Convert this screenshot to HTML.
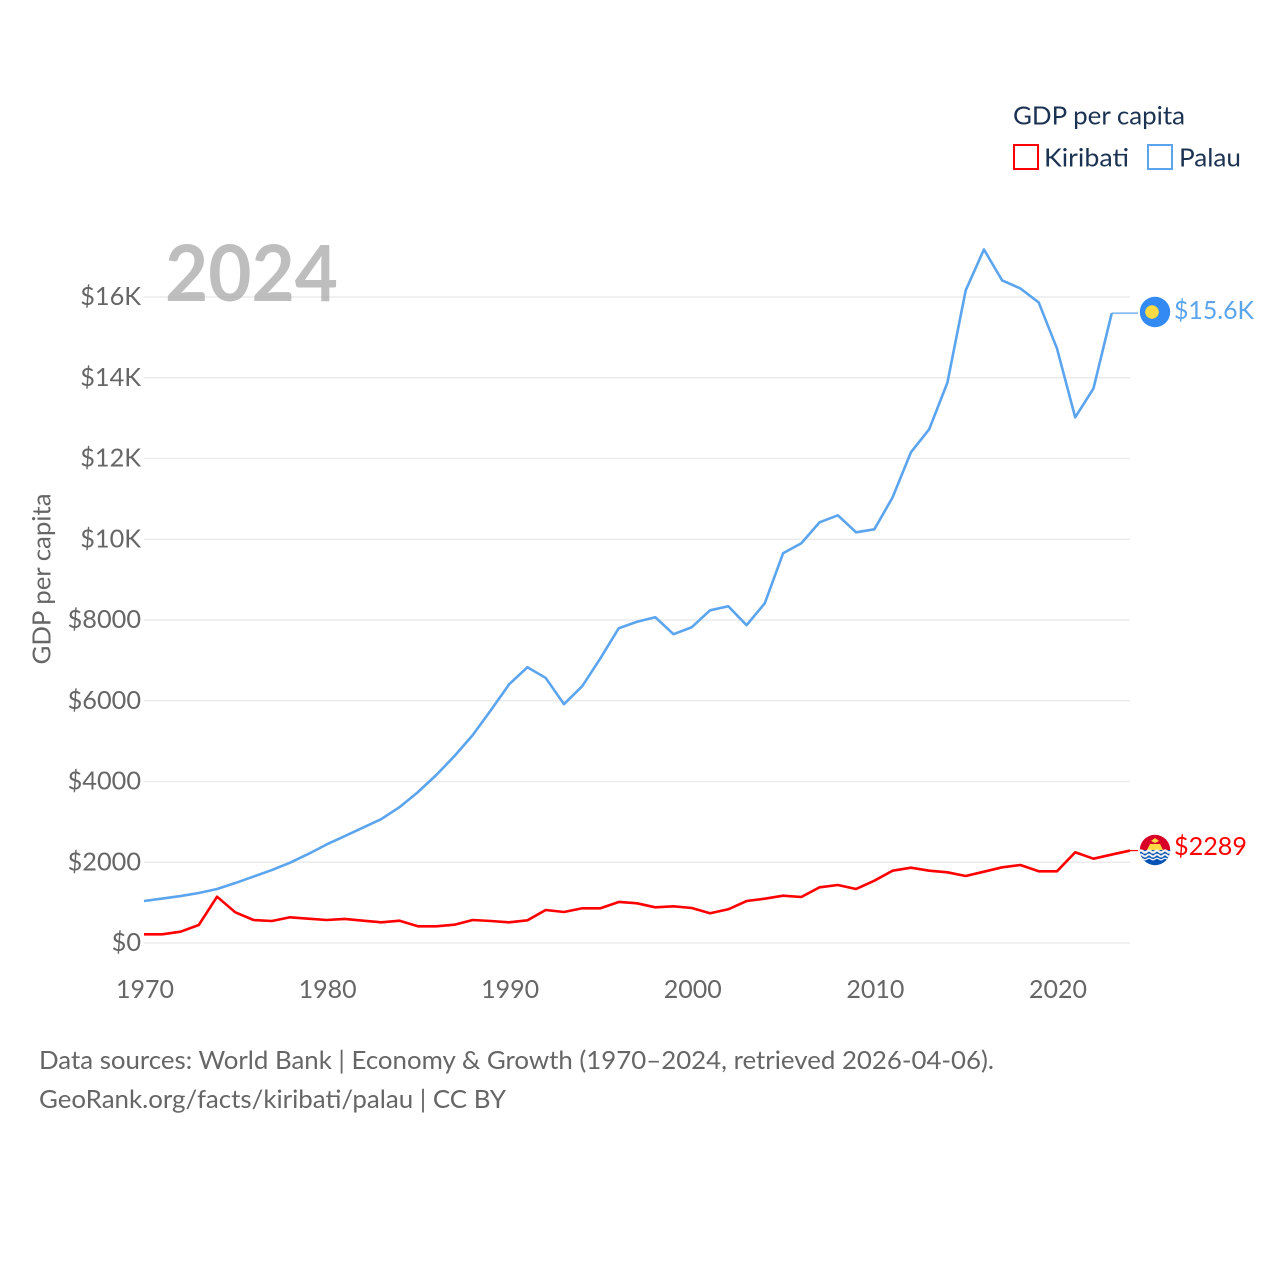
<!DOCTYPE html>
<html lang="en">
<head>
<meta charset="utf-8">
<title>GDP per capita: Kiribati and Palau</title>
<style>
html,body{margin:0;padding:0;background:#fff;width:1280px;height:1280px;overflow:hidden}
svg{display:block}
text{font-family:"Lato","Carlito","Liberation Sans",sans-serif}
</style>
</head>
<body>
<svg id="chart" xmlns="http://www.w3.org/2000/svg" width="1280" height="1280" viewBox="0 0 1280 1280">
  <defs>
    <clipPath id="flag-clip-ki"><circle cx="1155" cy="850" r="15.2"/></clipPath>
  </defs>
  <g id="grid"></g>
  <text x="165" y="301" font-size="78" font-weight="700" fill="#a8a8a8" fill-opacity="0.75" textLength="173" lengthAdjust="spacingAndGlyphs">2024</text>
  <g id="yticks"></g>
  <g id="xticks"></g>
  <text transform="translate(50.5,579) rotate(-90)" text-anchor="middle" font-size="25.2" fill="#666" textLength="171" lengthAdjust="spacingAndGlyphs">GDP per capita</text>
  <g id="series"></g>

  <g>
    <text x="1013" y="124.5" font-size="25.2" fill="#1b3252" textLength="172" lengthAdjust="spacingAndGlyphs">GDP per capita</text>
    <rect x="1014" y="145" width="24" height="24" fill="#fff" stroke="#ff0000" stroke-width="2"/>
    <text x="1044" y="166.5" font-size="25.2" fill="#1b3252" textLength="85" lengthAdjust="spacingAndGlyphs">Kiribati</text>
    <rect x="1148" y="145" width="24" height="24" fill="#fff" stroke="#5ba4ee" stroke-width="2"/>
    <text x="1179" y="166.5" font-size="25.2" fill="#1b3252" textLength="62" lengthAdjust="spacingAndGlyphs">Palau</text>
  </g>

  <g>
    <circle cx="1155" cy="312" r="15.2" fill="#338af3"/>
    <circle cx="1152" cy="312" r="6.8" fill="#ffda44"/>
    <text x="1174" y="319" font-size="25.2" fill="#5ba4ee" textLength="80" lengthAdjust="spacingAndGlyphs">$15.6K</text>
  </g>
  <g>
    <g clip-path="url(#flag-clip-ki)">
      <rect x="1139" y="834" width="32" height="17" fill="#d80027"/>
      <rect x="1139" y="850" width="32" height="16" fill="#0052b4"/>
      <path d="M1147 850l3-6h10l3 6z" fill="#ffda44"/>
      <path d="M1151 841l4-3 4 3-4 2z" fill="#ffda44"/>
      <path d="M1139 851.5q2-2 4 0t4 0 4 0 4 0 4 0 4 0 4 0 4 0" fill="none" stroke="#f0f0f0" stroke-width="2.4"/>
      <path d="M1139 855.5q2-2 4 0t4 0 4 0 4 0 4 0 4 0 4 0 4 0" fill="none" stroke="#f0f0f0" stroke-width="2"/>
      <path d="M1139 859q2-1.6 4 0t4 0 4 0 4 0 4 0 4 0 4 0 4 0" fill="none" stroke="#f0f0f0" stroke-width="1.4"/>
    </g>
    <text x="1174" y="855" font-size="25.2" fill="#ff0000" textLength="73" lengthAdjust="spacingAndGlyphs">$2289</text>
  </g>

  <g>
    <text x="39" y="1069" font-size="25.2" fill="#666" textLength="955" lengthAdjust="spacingAndGlyphs">Data sources: World Bank | Economy &amp; Growth (1970–2024, retrieved 2026-04-06).</text>
    <text x="39" y="1108" font-size="25.2" fill="#666" textLength="467" lengthAdjust="spacingAndGlyphs">GeoRank.org/facts/kiribati/palau | CC BY</text>
  </g>
</svg>
<script>
const startYear = 1970;
const years = [1970,1971,1972,1973,1974,1975,1976,1977,1978,1979,1980,1981,1982,1983,1984,1985,1986,1987,1988,1989,1990,1991,1992,1993,1994,1995,1996,1997,1998,1999,2000,2001,2002,2003,2004,2005,2006,2007,2008,2009,2010,2011,2012,2013,2014,2015,2016,2017,2018,2019,2020,2021,2022,2023,2024];
const kiribati = [215,215,280,446,1147,760,570,545,637,602,570,595,552,513,552,414,414,453,570,545,513,562,817,768,860,860,1016,983,884,909,867,736,835,1040,1097,1172,1139,1380,1437,1338,1543,1791,1865,1791,1751,1660,1766,1875,1932,1776,1776,2247,2088,2190,2289];
const palau = [1040,1101,1163,1238,1337,1485,1646,1807,1990,2205,2440,2650,2860,3069,3366,3737,4158,4628,5148,5767,6410,6830,6565,5915,6361,7054,7796,7957,8069,7648,7821,8240,8340,7871,8415,9653,9900,10420,10593,10172,10247,11039,12152,12722,13880,16162,17177,16409,16211,15865,14726,13019,13736,15600];
const yTickValues = [0,2000,4000,6000,8000,10000,12000,14000,16000];
const yTickLabels = ["$0","$2000","$4000","$6000","$8000","$10K","$12K","$14K","$16K"];
const xTickValues = [1970,1980,1990,2000,2010,2020];
const xTickLabels = ["1970","1980","1990","2000","2010","2020"];

const SVGNS = "http://www.w3.org/2000/svg";
function xScale(year){ return 144 + (year - startYear) * (1130 - 144) / 54; }
function yScale(value){ return 943 - value * (943 - 297) / 16000; }
function make(tag, attrs, parent){
  const el = document.createElementNS(SVGNS, tag);
  for (const k in attrs) el.setAttribute(k, attrs[k]);
  parent.appendChild(el);
  return el;
}
const gridG = document.getElementById("grid");
const yG = document.getElementById("yticks");
const xG = document.getElementById("xticks");
const seriesG = document.getElementById("series");

yTickValues.forEach(function(v, i){
  const line = make("line", {x1:144, x2:1130, y1:yScale(v), y2:yScale(v), stroke:"#ebebeb", "stroke-width":1.5}, gridG);
  
  
  const t = make("text", {x:141, y:yScale(v)+8, "text-anchor":"end", "font-size":25.3, fill:"#666"}, yG);
  
  
  t.textContent = yTickLabels[i];
});
xTickValues.forEach(function(v, i){
  const t = make("text", {x:xScale(v)+1, y:998, "text-anchor":"middle", "font-size":25, fill:"#666"}, xG);
  
  
  t.textContent = xTickLabels[i];
});
function pathFor(values){
  return values.map(function(v, i){ return (i ? "L" : "M") + xScale(years[i]).toFixed(2) + " " + yScale(v).toFixed(2); }).join("");
}
const palauLine = make("path", {d:pathFor(palau), fill:"none", stroke:"#5ba4ee", "stroke-width":2.6, "stroke-linejoin":"round"}, seriesG);


const kiribatiLine = make("path", {d:pathFor(kiribati), fill:"none", stroke:"#ff0000", "stroke-width":2.6, "stroke-linejoin":"round"}, seriesG);


const palauLastIndex = palau.length - 1;
const kiribatiLastIndex = kiribati.length - 1;
const palauConn = make("line", {x1:xScale(years[palauLastIndex]), x2:1138, y1:yScale(palau[palauLastIndex]), y2:yScale(palau[palauLastIndex]), stroke:"#5ba4ee", "stroke-width":1.2}, seriesG);


const kiribatiConn = make("line", {x1:xScale(years[kiribatiLastIndex]), x2:1138, y1:yScale(kiribati[kiribatiLastIndex]), y2:yScale(kiribati[kiribatiLastIndex]), stroke:"#ff0000", "stroke-width":1.2}, seriesG);


</script>
</body>
</html>
